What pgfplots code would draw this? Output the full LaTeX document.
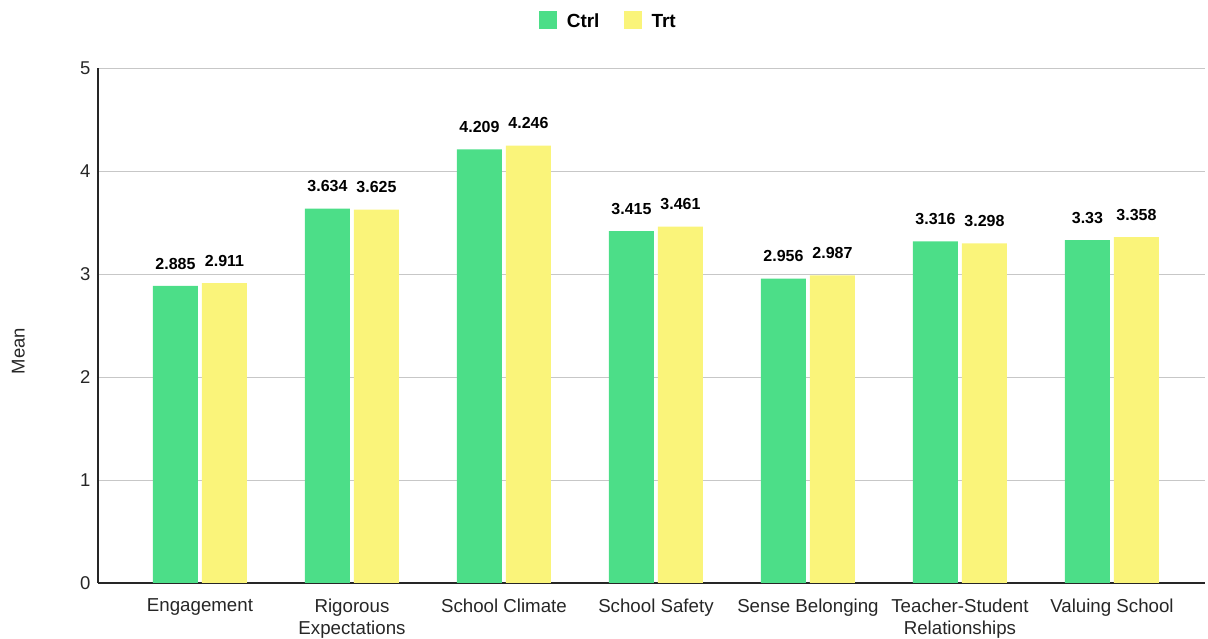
\documentclass[border=0pt]{standalone}
\usepackage{fontspec}
\setmainfont{Liberation Sans}
\usepackage{pgfplots}
\pgfplotsset{compat=1.18}
\definecolor{ctrl}{RGB}{76,222,136}
\definecolor{trt}{RGB}{250,244,122}
\begin{document}
\begin{tikzpicture}
\useasboundingbox (-98pt,-56pt) rectangle (1110pt,583pt);
\begin{axis}[
  at={(0pt,0pt)}, anchor=south west,
  scale only axis, width=1107pt, height=515pt,
  xmin=-0.671, xmax=6.612, ymin=0, ymax=5,
  ybar=4pt, bar width=45pt,
  ytick={0,1,2,3,4,5},
  xtick={0,1,2,3,4,5,6},
  xticklabels={Engagement, Rigorous\\Expectations, School Climate, School Safety, Sense Belonging, Teacher-Student\\Relationships, Valuing School},
  xticklabel style={align=center, font=\fontsize{18.7}{22.5}\selectfont, text=black!85, yshift=-12pt},
  yticklabel style={font=\fontsize{18.5}{20}\selectfont, text=black!85, xshift=-4pt},
  /pgf/number format/assume math mode=true,
  axis x line*=bottom, axis y line*=left,
  axis line style={-, black!85, line width=1.2pt},
  major tick length=0pt,
  ymajorgrids, grid style={black!22, line width=0.9pt},
  ylabel={Mean},
  ylabel style={at={(axis description cs:-0.072,0.45)}, anchor=center, font=\fontsize{18.5}{20}\selectfont, text=black!85},
  legend style={at={(axis description cs:0.461,1.091)}, anchor=center, draw=none, fill=none,
    legend columns=2, font=\bfseries\fontsize{19}{20}\selectfont,
    /tikz/every odd column/.append style={column sep=8pt},
    /tikz/every even column/.append style={column sep=22pt}},
  nodes near coords,
  point meta=explicit symbolic,
  nodes near coords style={font=\bfseries\fontsize{16}{18}\selectfont, anchor=south, yshift=13pt, text=black},
]
\addplot[fill=ctrl, draw=none,
  legend image code/.code={\fill[ctrl] (0pt,-7pt) rectangle (18pt,11pt);}]
  coordinates {(0,2.885)[2.885] (1,3.634)[3.634] (2,4.209)[4.209] (3,3.415)[3.415] (4,2.956)[2.956] (5,3.316)[3.316] (6,3.33)[3.33]};
\addlegendentry{Ctrl}
\addplot[fill=trt, draw=none,
  legend image code/.code={\fill[trt] (0pt,-7pt) rectangle (18pt,11pt);}]
  coordinates {(0,2.911)[2.911] (1,3.625)[3.625] (2,4.246)[4.246] (3,3.461)[3.461] (4,2.987)[2.987] (5,3.298)[3.298] (6,3.358)[3.358]};
\addlegendentry{Trt}
\end{axis}
\end{tikzpicture}
\end{document}
